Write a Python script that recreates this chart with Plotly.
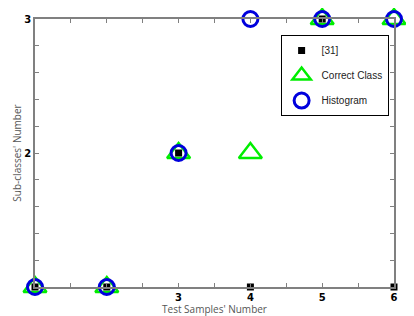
import plotly.graph_objects as go

samples = [1, 2, 3, 4, 5, 6]
ref31 = [1, 1, 2, 1, 3, 1]
correct_class = [1, 1, 2, 2, 3, 3]
histogram = [1, 1, 2, 3, 3, 3]

fig = go.Figure()
fig.add_trace(go.Scatter(x=samples, y=correct_class, mode="markers", name="Correct Class",
                         legendrank=2, legendgroup="b", cliponaxis=False,
                         marker=dict(symbol="triangle-up-open", size=20, color="#00ee00",
                                     line=dict(width=2.5, color="#00ee00"))))
fig.add_trace(go.Scatter(x=samples, y=histogram, mode="markers", name="Histogram",
                         legendrank=3, legendgroup="c", cliponaxis=False,
                         marker=dict(symbol="circle-open", size=15, color="#0000dd",
                                     line=dict(width=3, color="#0000dd"))))
fig.add_trace(go.Scatter(x=samples, y=ref31, mode="markers", name="[31]",
                         legendrank=1, legendgroup="a", cliponaxis=False,
                         marker=dict(symbol="square", size=7, color="black")))

axis_common = dict(showgrid=False, zeroline=False, showline=True, linecolor="#808080",
                   linewidth=1.5, mirror="ticks", ticks="inside", ticklen=4,
                   tickcolor="#808080", automargin=False,
                   tickfont=dict(family="DejaVu Sans", size=10, color="black", weight="bold"))

fig.update_layout(
    width=406, height=308,
    margin=dict(l=27, r=20, t=11, b=29),
    paper_bgcolor="white", plot_bgcolor="white",
    showlegend=True,
    legend=dict(x=0.985, xanchor="right", y=0.94, yanchor="top",
                bordercolor="black", borderwidth=1, bgcolor="white",
                font=dict(family="Liberation Sans", size=10, color="#222222"),
                tracegroupgap=6),
    xaxis=dict(range=[1, 6], tickvals=[1, 1.5, 2, 2.5, 3, 3.5, 4, 4.5, 5, 5.5, 6],
               ticktext=["", "", "", "", "3", "", "4", "", "5", "", "6"],
               title=dict(text="Test Samples' Number", standoff=0,
                          font=dict(family="Open Sans", size=10, color="#555555")),
               **axis_common),
    yaxis=dict(range=[1, 3], tickvals=[1, 1.2, 1.4, 1.6, 1.8, 2, 2.2, 2.4, 2.6, 2.8, 3],
               ticktext=["", "", "", "", "", "2", "", "", "", "", "3"],
               title=dict(text="Sub-classes' Number", standoff=0,
                          font=dict(family="Open Sans", size=10, color="#555555")),
               **axis_common),
)

fig.write_html("out.html")
